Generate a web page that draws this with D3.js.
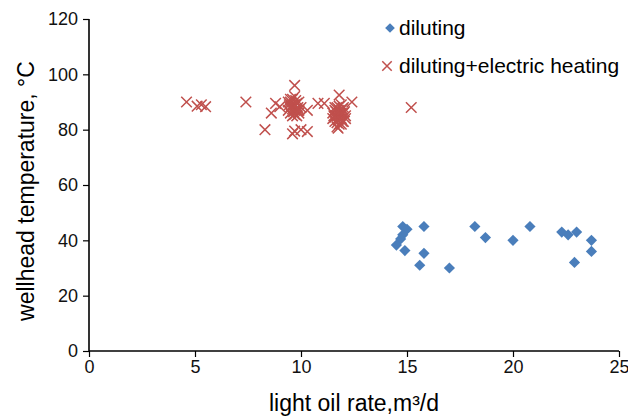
<!DOCTYPE html>
<html>
<head>
<meta charset="utf-8">
<script src="https://cdn.jsdelivr.net/npm/d3@7"></script>
<style>
  body { margin: 0; background: #fff; }
  svg { display: block; font-family: "Liberation Sans", Arial, sans-serif; }
</style>
</head>
<body>
<svg id="chart" width="628" height="418"></svg>
<script>
// diluting (blue diamonds)
const dilutingX = [14.8, 15.0, 14.8, 14.7, 14.5, 14.9, 15.8, 15.8, 15.6, 17.0, 18.2, 18.7, 20.0, 20.8, 22.3, 22.6, 23.0, 22.9, 23.7, 23.7];
const dilutingY = [45, 44, 42, 40.5, 38.3, 36.3, 45, 35.3, 31, 30, 45, 41, 40, 45, 43, 42, 43, 32, 40, 36];

// diluting + electric heating (red crosses)
const heatingX = [4.6, 5.1, 5.3, 5.5, 7.4, 8.3, 8.6, 8.8, 9.0, 9.7, 10.3, 9.6, 9.7, 10.0, 10.3, 10.8, 11.1, 11.8, 12.4, 15.2,
  9.4, 9.5, 9.6, 9.7, 9.8, 9.5, 9.6, 9.9, 10.0, 9.7, 9.4, 9.8, 9.6, 9.9, 9.5, 9.7,
  9.55, 9.65, 9.75, 9.85, 9.45, 9.6, 9.8, 9.7, 9.5, 9.9,
  11.6, 11.8, 11.7, 11.9, 12.0, 11.5, 11.6, 11.8, 12.0, 11.7, 11.9, 12.1, 11.5, 11.8, 12.0, 11.6, 11.9, 12.1, 11.7, 11.8,
  11.65, 11.75, 11.85, 11.95, 11.55, 11.7, 11.9, 12.05, 11.6, 11.8, 11.75, 11.95];
const heatingY = [90, 88.5, 89, 88.3, 90, 80, 86, 89.5, 88.3, 96, 87, 78.5, 79.5, 80, 79.3, 89.5, 89.5, 92.5, 90, 88,
  90, 88, 91, 89, 87, 86, 85, 90, 88, 92, 87, 85, 89, 86, 90, 87,
  88.5, 86.5, 90.5, 88, 89, 87.5, 89.5, 85.5, 91, 87,
  88, 87, 85, 84, 86, 86, 83, 82, 83, 81, 89, 85, 84, 86, 88, 87, 82, 84, 88, 84,
  86.5, 83.5, 85.5, 87.5, 85, 82.5, 86, 86.5, 84.5, 88.5, 80.5, 83];

const xTicks = [0, 5, 10, 15, 20, 25];
const yTicks = [0, 20, 40, 60, 80, 100, 120];

const svg = d3.select('#chart');
const margin = { top: 19, right: 9, bottom: 67, left: 89 };
const width = +svg.attr('width');
const height = +svg.attr('height');
const innerWidth = width - margin.left - margin.right;
const innerHeight = height - margin.top - margin.bottom;

const xScale = d3.scaleLinear().domain([0, 25]).range([0, innerWidth]);
const yScale = d3.scaleLinear().domain([0, 120]).range([innerHeight, 0]);

const g = svg.append('g')
  .attr('transform', `translate(${margin.left},${margin.top})`);

// axes
const xAxis = g.append('g')
  .attr('transform', `translate(0,${innerHeight})`)
  .call(d3.axisBottom(xScale).tickValues(xTicks).tickSize(6).tickPadding(3));
const yAxis = g.append('g')
  .call(d3.axisLeft(yScale).tickValues(yTicks).tickSize(6).tickPadding(5));

[xAxis, yAxis].forEach(a => {
  a.select('.domain').attr('stroke', '#000').attr('stroke-width', 1.6);
  a.selectAll('.tick line').attr('stroke', '#000').attr('stroke-width', 1.2);
  a.selectAll('.tick text')
    .attr('font-size', '18px')
    .attr('fill', '#111')
    .attr('font-family', '"Liberation Sans", Arial, sans-serif');
});
xAxis.select('.domain').attr('d', `M0,0H${innerWidth}`);
yAxis.select('.domain').attr('d', `M0,${innerHeight}V0`);

// blue diamonds
const diamond = d3.symbol().type(d3.symbolDiamond2).size(80);
const dilData = dilutingX.map((x, i) => ({ x, y: dilutingY[i] }));
g.selectAll('path.dil')
  .data(dilData)
  .enter()
  .append('path')
  .attr('class', 'dil')
  .attr('d', diamond)
  .attr('transform', d => `translate(${xScale(d.x)},${yScale(d.y)})`)
  .attr('fill', '#4a7ebb');

// red crosses
const cross = d3.symbol().type(d3.symbolTimes).size(75);
const heatData = heatingX.map((x, i) => ({ x, y: heatingY[i] }));
g.selectAll('path.heat')
  .data(heatData)
  .enter()
  .append('path')
  .attr('class', 'heat')
  .attr('d', cross)
  .attr('transform', d => `translate(${xScale(d.x)},${yScale(d.y)})`)
  .attr('fill', 'none')
  .attr('stroke', '#c0504d')
  .attr('stroke-width', 1.5);

// legend
const legend = svg.append('g').attr('transform', 'translate(390,28)');
legend.append('path')
  .attr('d', d3.symbol().type(d3.symbolDiamond2).size(60))
  .attr('fill', '#4a7ebb');
legend.append('text')
  .attr('x', 9).attr('y', 7)
  .attr('font-size', '21px').attr('fill', '#000')
  .text('diluting');
legend.append('path')
  .attr('d', d3.symbol().type(d3.symbolTimes).size(60))
  .attr('transform', 'translate(-3,38)')
  .attr('fill', 'none').attr('stroke', '#c0504d').attr('stroke-width', 1.5);
legend.append('text')
  .attr('x', 9).attr('y', 45)
  .attr('font-size', '21px').attr('fill', '#000')
  .text('diluting+electric heating');

// axis titles
svg.append('text')
  .attr('x', margin.left + innerWidth / 2)
  .attr('y', 411)
  .attr('text-anchor', 'middle')
  .attr('font-size', '23px')
  .attr('fill', '#000')
  .text('light oil rate,m³/d');

svg.append('text')
  .attr('transform', `translate(34,${margin.top + innerHeight / 2 + 6}) rotate(-90)`)
  .attr('text-anchor', 'middle')
  .attr('font-size', '23px')
  .attr('fill', '#000')
  .text('wellhead temperature, °C');
</script>
</body>
</html>
